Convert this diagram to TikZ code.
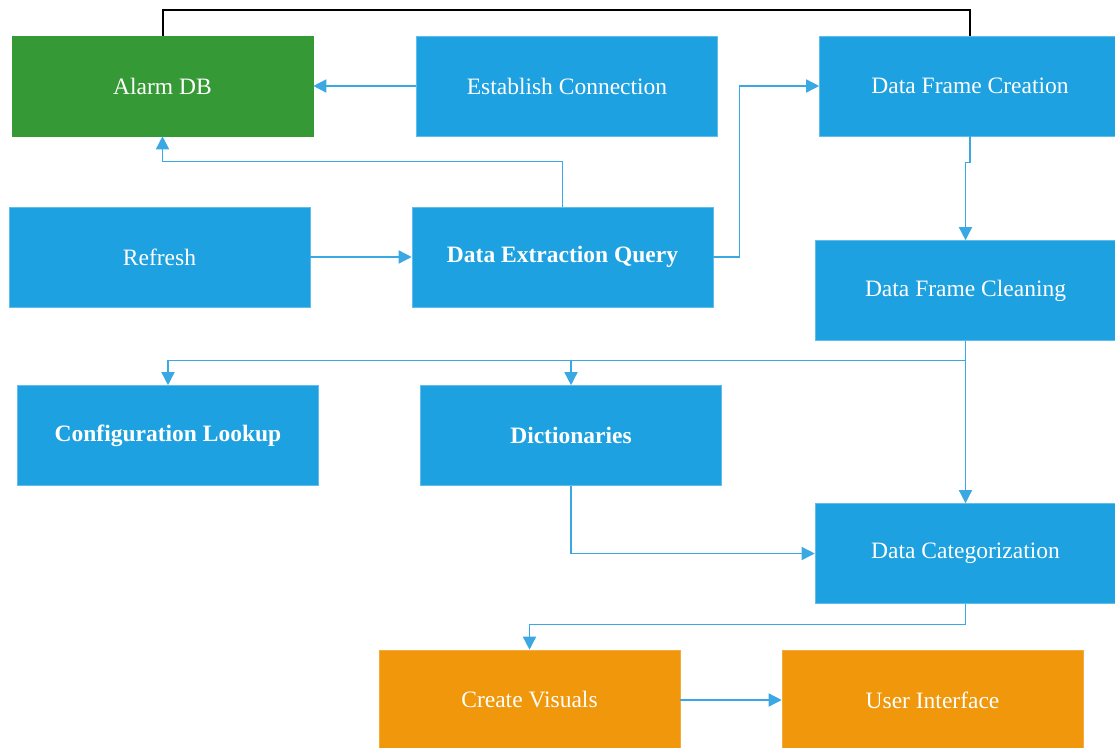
\documentclass[tikz,border=0pt]{standalone}
\usepackage{fontspec}
\setmainfont{Liberation Serif}
\usetikzlibrary{arrows.meta}
\definecolor{boxblue}{HTML}{1DA1E0}
\definecolor{boxgreen}{HTML}{359A35}
\definecolor{boxorange}{HTML}{F0970B}
\definecolor{linkblue}{HTML}{3AA8E2}
\tikzset{
  stage/.style={rectangle, fill=boxblue, draw=boxblue!70!white, line width=0.6pt,
    minimum width=301pt, minimum height=100pt, inner sep=0pt,
    text=white, font=\fontsize{23.5}{28}\selectfont},
  dbstage/.style={stage, fill=boxgreen, draw=boxgreen},
  outstage/.style={stage, fill=boxorange, draw=boxorange!80!white},
  boldtext/.style={font=\fontsize{23.5}{28}\selectfont\bfseries},
  link/.style={draw=linkblue, line width=1.5pt,
    -{Triangle[length=13pt,width=13pt]}, color=linkblue},
  plainlink/.style={draw=black, line width=2pt}
}
\begin{document}
\begin{tikzpicture}[x=1pt,y=-1pt]
\useasboundingbox (0,0) rectangle (1115,747);

% process stages
\node[dbstage]  (alarm)   at (162.5,86)  {Alarm DB};
\node[stage]    (estab)   at (567,86)    {Establish Connection};
\node[stage]    (dfc)     at (970,86)    {Data Frame Creation};
\node[stage]    (refresh) at (159.5,257) {Refresh};
\node[stage, boldtext] (deq) at (562.5,257) {Data Extraction Query};
\node[stage]    (dfclean) at (965.5,290.5) {Data Frame Cleaning};
\node[stage, boldtext] (config) at (168,435.5) {Configuration Lookup};
\node[stage, boldtext] (dict)   at (571,435.5) {Dictionaries};
\node[stage]    (dcat)    at (965.5,553.5) {Data Categorization};
\node[outstage] (visuals) at (529.5,700)  {Create Visuals};
\node[outstage] (ui)      at (932.5,700)  {User Interface};

% database link across the top
\draw[plainlink] (alarm.north) -- ++(0,-26) -| (dfc.north);

% flow of data
\draw[link] (estab.west) -- (alarm.east);
\draw[link] (deq.north) -- ++(0,-45) -| (alarm.south);
\draw[link] (refresh.east) -- (deq.west);
\draw[link] (deq.east) -- ++(26,0) |- (dfc.west);
\draw[link] (dfc.south) -- ++(0,26) -| (dfclean.north);
\draw[link] (dfclean.south) -- ++(0,19.5) -| (config.north);
\draw[link] (dfclean.south) -- ++(0,19.5) -| (dict.north);
\draw[link] (dfclean.south) -- (dcat.north);
\draw[link] (dict.south) |- (dcat.west);
\draw[link] (dcat.south) -- ++(0,20.5) -| (visuals.north);
\draw[link] (visuals.east) -- (ui.west);
\end{tikzpicture}
\end{document}
